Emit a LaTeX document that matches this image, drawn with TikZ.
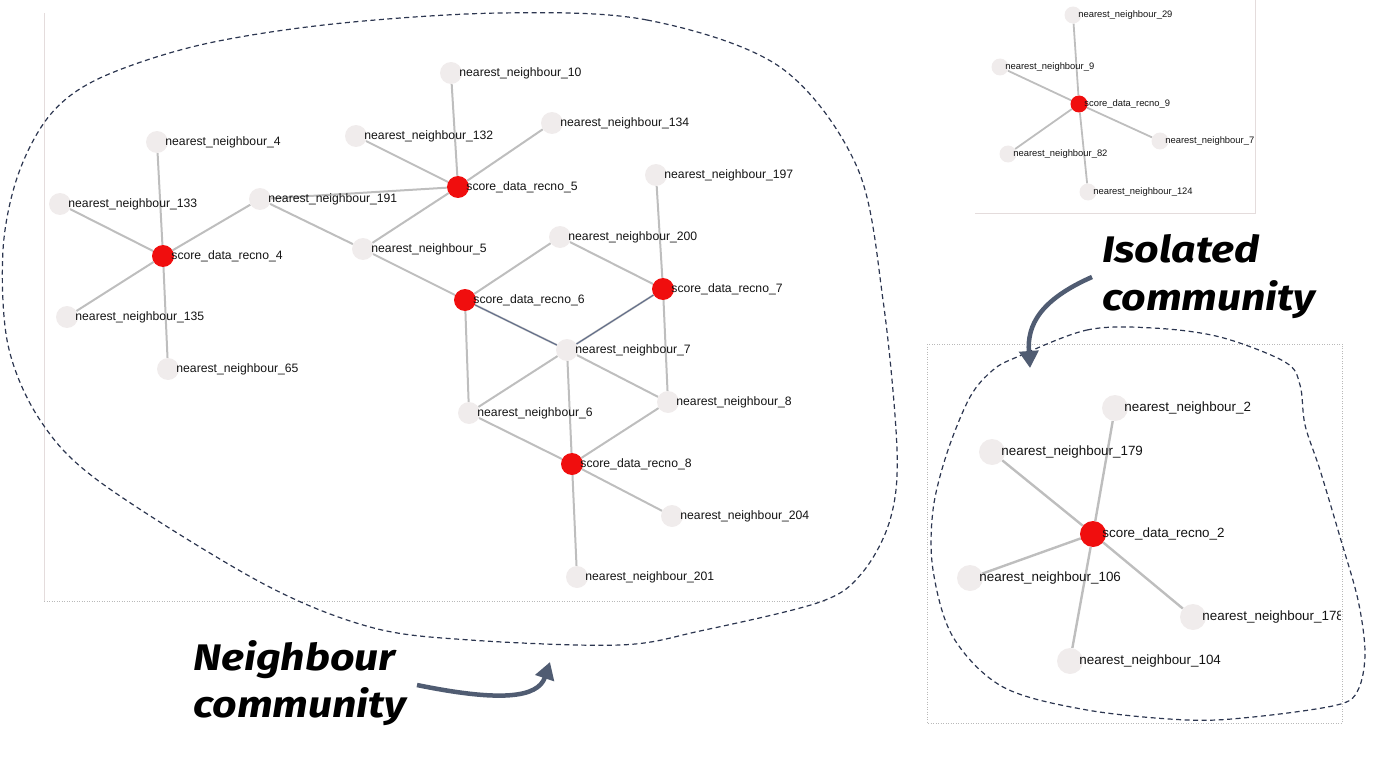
\documentclass[tikz,border=0pt]{standalone}
\usepackage{fontspec}
\setmainfont{Liberation Sans}
\newfontfamily\handfont{Fira Sans}
\usetikzlibrary{arrows.meta,backgrounds}
\definecolor{nodered}{RGB}{240,14,14}
\definecolor{nodelight}{RGB}{240,236,236}
\definecolor{edgegray}{RGB}{190,190,190}
\definecolor{blobnavy}{RGB}{44,54,80}
\definecolor{arrowslate}{RGB}{80,92,114}
\definecolor{hledge}{RGB}{95,108,138}
\definecolor{boxgray}{RGB}{185,185,185}
\definecolor{boxlight}{RGB}{228,220,220}
\definecolor{labtext}{RGB}{20,20,20}
\newcommand\NNlab[1]{nearest\_neighbour\_#1}
\newcommand\SDlab[1]{score\_data\_recno\_#1}
\newcommand\HandStretch[1]{\scalebox{1.16}[1]{#1}}
\begin{document}
\begin{tikzpicture}[x=1pt,y=-1pt,
  mnode/.style={circle,inner sep=0pt,minimum size=22pt},
  snode/.style={circle,inner sep=0pt,minimum size=17pt},
  inode/.style={circle,inner sep=0pt,minimum size=26pt},
  lt/.style={fill=nodelight},
  rd/.style={fill=nodered},
  mlab/.style={label={[font=\fontsize{12.2}{12}\selectfont,text=labtext,inner sep=0pt,label distance=-3pt]0:#1}},
  slab/.style={label={[font=\fontsize{9.4}{9.4}\selectfont,text=labtext,inner sep=0pt,label distance=-3.5pt]0:#1}},
  ilab/.style={label={[font=\fontsize{13.4}{13.4}\selectfont,text=labtext,inner sep=0pt,label distance=-4pt]0:#1}},
  edge/.style={draw=edgegray,line width=2pt},
  sedge/.style={draw=edgegray,line width=1.8pt},
  iedge/.style={draw=edgegray,line width=2.4pt},
  hl/.style={draw=hledge,line width=1pt},
  blob/.style={draw=blobnavy,line width=1.2pt,dash pattern=on 5pt off 3.5pt},
  boxdot/.style={draw=boxgray,line width=0.8pt,dash pattern=on 1pt off 1.5pt},
  boxsolid/.style={draw=boxlight,line width=1pt},
  bigarrow/.style={draw=arrowslate,line width=4.5pt,-{Triangle[length=17pt,width=19pt,fill=arrowslate]}},
  hand/.style={font=\handfont\bfseries\itshape\fontsize{37}{40}\selectfont,inner sep=0pt,text=black}
]
\useasboundingbox (0,0) rectangle (1400,757);

% ---------- boxes ----------
\draw[boxsolid] (44,13) -- (44,601);
\draw[boxdot] (44,601) -- (825,601);
\draw[boxsolid] (975,213) -- (1255,213) -- (1255,0);
\draw[boxdot] (927,344) rectangle (1342,723);

% ---------- main graph ----------
\node[mnode,rd,mlab=\SDlab{4}] (r4) at (163,256) {};
\node[mnode,rd,mlab=\SDlab{5}] (r5) at (458,187) {};
\node[mnode,rd,mlab=\SDlab{6}] (r6) at (465,300) {};
\node[mnode,rd,mlab=\SDlab{7}] (r7) at (663,289) {};
\node[mnode,rd,mlab=\SDlab{8}] (r8) at (572,464) {};
\node[mnode,lt,mlab=\NNlab{4}] (n4) at (157,142) {};
\node[mnode,lt,mlab=\NNlab{133}] (n133) at (60,204) {};
\node[mnode,lt,mlab=\NNlab{135}] (n135) at (67,317) {};
\node[mnode,lt,mlab=\NNlab{65}] (n65) at (168,369) {};
\node[mnode,lt,mlab=\NNlab{191}] (n191) at (260,199) {};
\node[mnode,lt,mlab=\NNlab{5}] (n5) at (363,249) {};
\node[mnode,lt,mlab=\NNlab{132}] (n132) at (356,136) {};
\node[mnode,lt,mlab=\NNlab{10}] (n10) at (451,73) {};
\node[mnode,lt,mlab=\NNlab{134}] (n134) at (552,123) {};
\node[mnode,lt,mlab=\NNlab{197}] (n197) at (656,175) {};
\node[mnode,lt,mlab=\NNlab{200}] (n200) at (560,237) {};
\node[mnode,lt,mlab=\NNlab{7}] (n7) at (567,350) {};
\node[mnode,lt,mlab=\NNlab{6}] (n6) at (469,413) {};
\node[mnode,lt,mlab=\NNlab{8}] (n8) at (668,402) {};
\node[mnode,lt,mlab=\NNlab{204}] (n204) at (672,516) {};
\node[mnode,lt,mlab=\NNlab{201}] (n201) at (577,577) {};

% ---------- top-right graph ----------
\node[snode,rd,slab=\SDlab{9}] (r9) at (1079,104) {};
\node[snode,lt,slab=\NNlab{29}] (t29) at (1073,15) {};
\node[snode,lt,slab=\NNlab{9}] (t9) at (1000,67) {};
\node[snode,lt,slab=\NNlab{7}] (t7) at (1160,141) {};
\node[snode,lt,slab=\NNlab{82}] (t82) at (1008,154) {};
\node[snode,lt,slab=\NNlab{124}] (t124) at (1088,192) {};

% ---------- isolated graph ----------
\node[inode,rd,ilab=\SDlab{2}] (r2) at (1093,534) {};
\node[inode,lt,ilab=\NNlab{2}] (i2) at (1115,408) {};
\node[inode,lt,ilab=\NNlab{179}] (i179) at (992,452) {};
\node[inode,lt,ilab=\NNlab{106}] (i106) at (970,578) {};
\node[inode,lt,ilab=\NNlab{104}] (i104) at (1070,661) {};
\begin{scope}
  \clip (927,344) rectangle (1340,723);
  \node[inode,lt,ilab=\NNlab{178}] (i178) at (1193,617) {};
\end{scope}

% ---------- edges ----------
\begin{scope}[on background layer]
  \foreach \a/\b in {r4/n4,r4/n133,r4/n135,r4/n65,r4/n191,
                     r5/n132,r5/n10,r5/n134,r5/n191,r5/n5,
                     n191/n5,n5/r6,r6/n200,r6/n7,r6/n6,
                     r7/n197,r7/n200,r7/n7,r7/n8,
                     n7/n6,n7/n8,n7/r8,
                     r8/n6,r8/n8,r8/n204,r8/n201}
    {\draw[edge] (\a) -- (\b);}
  \draw[hl] (r6) -- (n7);
  \draw[hl] (r7) -- (n7);
  \foreach \b in {t29,t9,t7,t82,t124}
    {\draw[sedge] (r9) -- (\b);}
  \foreach \b in {i2,i179,i106,i104,i178}
    {\draw[iedge] (r2) -- (\b);}
\end{scope}

% ---------- community outlines ----------
\draw[blob] plot[smooth cycle,tension=0.55] coordinates {
  (500,13) (647,20) (780,67) (857,167) (883,300) (897,450) (890,520)
  (862,573) (820,602) (700,631) (620,645) (470,640) (370,627) (260,582)
  (100,482) (40,420) (8,345) (3,250) (18,175) (50,115) (100,78) (200,45) (333,24)};
\draw[blob] plot[smooth cycle,tension=0.55] coordinates {
  (1017,357) (1087,330) (1153,328) (1220,337) (1285,362) (1300,385)
  (1305,425) (1320,470) (1340,537) (1358,600) (1365,653) (1358,690)
  (1337,705) (1253,717) (1187,720) (1087,710) (1003,687) (953,637)
  (933,570) (933,510) (947,453) (970,397) (993,370)};

% ---------- annotations ----------
\node[hand,anchor=base west] (nbA) at (193,670) {\HandStretch{Neighbour}};
\node[hand,anchor=base west] (nbB) at (193,717) {\HandStretch{community}};
\node[hand,anchor=base west] (isA) at (1102,262) {\HandStretch{Isolated}};
\node[hand,anchor=base west] (isB) at (1102,310) {\HandStretch{community}};

\coordinate (nArrS) at (417,685);
\coordinate (nArrE) at (550,662);
\draw[bigarrow] (nArrS) .. controls (500,702) and (538,698) .. (nArrE);
\coordinate (iArrS) at (1092,277);
\coordinate (iArrE) at (1030,368);
\draw[bigarrow] (iArrS) .. controls (1040,300) and (1027,325) .. (iArrE);
\end{tikzpicture}
\end{document}
